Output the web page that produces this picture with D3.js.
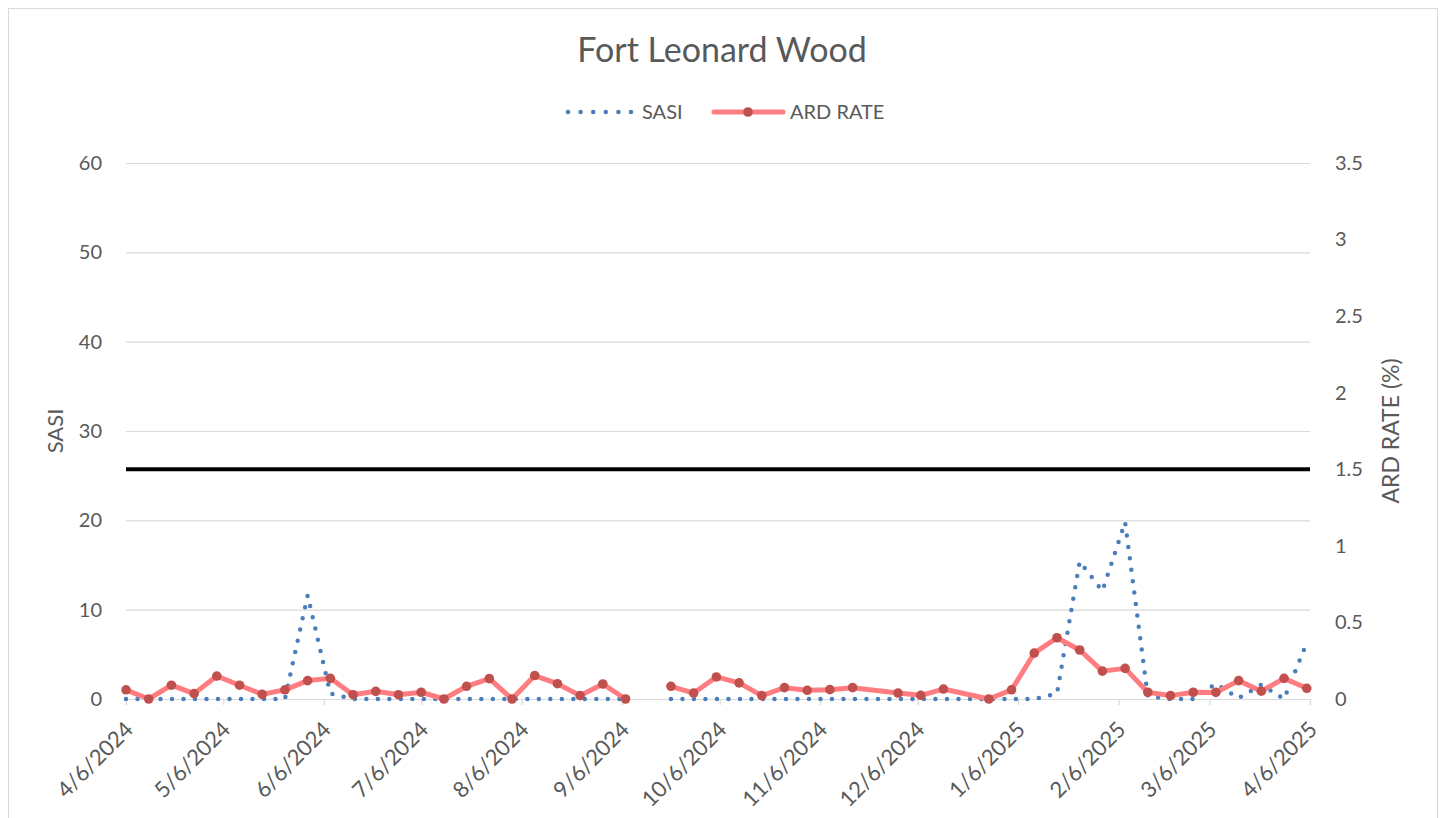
<!DOCTYPE html>
<html>
<head>
<meta charset="utf-8">
<script src="https://cdn.jsdelivr.net/npm/d3@7"></script>
<style>
  html, body { margin: 0; padding: 0; background: #ffffff; }
  svg { display: block; }
  text { font-family: Lato, "Open Sans", sans-serif; fill: #595959; }
</style>
</head>
<body>
<svg id="chart" width="1445" height="818"></svg>
<script>
// ---- data ----
const chartTitle = "Fort Leonard Wood";
const seriesNames = ["SASI", "ARD RATE"];
const weekDates = [
  "2024-04-06","2024-04-13","2024-04-20","2024-04-27","2024-05-04","2024-05-11","2024-05-18","2024-05-25",
  "2024-06-01","2024-06-08","2024-06-15","2024-06-22","2024-06-29","2024-07-06","2024-07-13","2024-07-20",
  "2024-07-27","2024-08-03","2024-08-10","2024-08-17","2024-08-24","2024-08-31","2024-09-07","2024-09-14",
  "2024-09-21","2024-09-28","2024-10-05","2024-10-12","2024-10-19","2024-10-26","2024-11-02","2024-11-09",
  "2024-11-16","2024-11-30","2024-12-07","2024-12-14","2024-12-28","2025-01-04","2025-01-11","2025-01-18",
  "2025-01-25","2025-02-01","2025-02-08","2025-02-15","2025-02-22","2025-03-01","2025-03-08","2025-03-15",
  "2025-03-22","2025-03-29","2025-04-05"
];
const sasiValues = [
  0, 0, 0, 0, 0, 0, 0, 0,
  11.6, 0.6, 0, 0, 0, 0, 0, 0,
  0, 0, 0, 0, 0, 0, 0, null,
  0, 0, 0, 0, 0, 0, 0, 0,
  0, 0, 0, 0, 0, 0, 0, 0.6,
  15.4, 12.1, 19.8, 0.3, 0, 0, 1.7, 0.1,
  1.6, 0, 6.3
];
const ardValues = [
  0.06, 0.0, 0.09, 0.035, 0.15, 0.09, 0.03, 0.06,
  0.12, 0.135, 0.028, 0.05, 0.028, 0.044, 0.0, 0.083,
  0.133, 0.0, 0.153, 0.10, 0.022, 0.098, 0.0, null,
  0.083, 0.039, 0.144, 0.105, 0.022, 0.074, 0.057, 0.061,
  0.074, 0.039, 0.024, 0.065, 0.0, 0.06, 0.30, 0.40,
  0.32, 0.182, 0.20, 0.044, 0.022, 0.044, 0.043, 0.12,
  0.051, 0.135, 0.07
];
const thresholdArd = 1.5;
const xTickLabels = ["4/6/2024","5/6/2024","6/6/2024","7/6/2024","8/6/2024","9/6/2024","10/6/2024",
  "11/6/2024","12/6/2024","1/6/2025","2/6/2025","3/6/2025","4/6/2025"];
const leftTicks = [0, 10, 20, 30, 40, 50, 60];
const rightTicks = [0, 0.5, 1, 1.5, 2, 2.5, 3, 3.5];
const leftAxisTitle = "SASI";
const rightAxisTitle = "ARD RATE (%)";

// ---- drawing ----
const FONT = 'Lato, "Open Sans", sans-serif';
const svg = d3.select("#chart");
const parseISO = d3.timeParse("%Y-%m-%d");
const parseTick = d3.timeParse("%m/%d/%Y");
const tickDates = xTickLabels.map(parseTick);

const plot = { left: 126, right: 1310, top: 163, bottom: 699 };
const x = d3.scaleTime().domain([tickDates[0], tickDates[tickDates.length - 1]]).range([plot.left, plot.right]);
const yL = d3.scaleLinear().domain([0, 60]).range([plot.bottom, plot.top]);
const yR = d3.scaleLinear().domain([0, 3.5]).range([plot.bottom, plot.top]);

const data = weekDates.map((d, i) => ({ date: parseISO(d), sasi: sasiValues[i], ard: ardValues[i] }));

// chart border
svg.append("rect").attr("x", 8.5).attr("y", 8.5).attr("width", 1429).attr("height", 830)
  .attr("fill", "none").attr("stroke", "#d9d9d9").attr("stroke-width", 1);

// title
svg.append("text").attr("x", 722).attr("y", 62).attr("text-anchor", "middle")
  .attr("font-size", 34).text(chartTitle);

// gridlines (left axis)
const gridG = svg.append("g")
  .attr("transform", `translate(${plot.left},0)`)
  .call(d3.axisLeft(yL).tickValues(leftTicks).tickSize(-(plot.right - plot.left)).tickFormat(""));
gridG.select(".domain").remove();
gridG.selectAll(".tick line").attr("stroke", "#d9d9d9").attr("stroke-width", 1.2);

// left tick labels
const leftG = svg.append("g")
  .attr("transform", `translate(${plot.left},0)`)
  .call(d3.axisLeft(yL).tickValues(leftTicks).tickSize(0).tickPadding(24));
leftG.select(".domain").remove();
leftG.selectAll("text").attr("font-size", 20).attr("fill", "#595959").style("font-family", FONT);

// right tick labels
const rightG = svg.append("g")
  .attr("transform", `translate(${plot.right},0)`)
  .call(d3.axisRight(yR).tickValues(rightTicks).tickSize(0).tickPadding(25).tickFormat(d3.format("")));
rightG.select(".domain").remove();
rightG.selectAll("text").attr("font-size", 20).attr("fill", "#595959").style("font-family", FONT);

// x axis
const xG = svg.append("g")
  .attr("transform", `translate(0,${plot.bottom})`)
  .call(d3.axisBottom(x).tickValues(tickDates).tickSize(6).tickFormat((d, i) => xTickLabels[i]));
xG.select(".domain").attr("stroke", "#d9d9d9").attr("stroke-width", 1.2);
xG.selectAll(".tick line").attr("stroke", "#d9d9d9").attr("stroke-width", 1.2);
xG.selectAll("text")
  .attr("font-size", 22).attr("fill", "#595959").style("font-family", FONT)
  .attr("text-anchor", "end")
  .attr("dy", null).attr("y", null)
  .attr("transform", "translate(8,32) rotate(-45)");

// axis titles
svg.append("text").attr("transform", `translate(63,431) rotate(-90)`)
  .attr("text-anchor", "middle").attr("font-size", 22).text(leftAxisTitle);
svg.append("text").attr("transform", `translate(1399,431) rotate(-90)`)
  .attr("text-anchor", "middle").attr("font-size", 23).text(rightAxisTitle);

// threshold line (right axis)
svg.append("line")
  .attr("x1", plot.left).attr("x2", plot.right)
  .attr("y1", yR(thresholdArd)).attr("y2", yR(thresholdArd))
  .attr("stroke", "#000").attr("stroke-width", 4);

// SASI dotted line
const sasiLine = d3.line().defined(d => d.sasi != null).x(d => x(d.date)).y(d => yL(d.sasi));
svg.append("path").datum(data).attr("d", sasiLine)
  .attr("fill", "none").attr("stroke", "#4a7ebb").attr("stroke-width", 4.5)
  .attr("stroke-linecap", "round").attr("stroke-dasharray", "0 11.5");

// ARD line
const ardLine = d3.line().defined(d => d.ard != null).x(d => x(d.date)).y(d => yR(d.ard));
svg.append("path").datum(data).attr("d", ardLine)
  .attr("fill", "none").attr("stroke", "#ff7c80").attr("stroke-width", 5)
  .attr("stroke-linejoin", "round");
svg.append("g").selectAll("circle").data(data.filter(d => d.ard != null)).join("circle")
  .attr("cx", d => x(d.date)).attr("cy", d => yR(d.ard)).attr("r", 4.8)
  .attr("fill", "#c0504d");

// legend
const lg = svg.append("g");
lg.append("line").attr("x1", 568).attr("x2", 633).attr("y1", 112).attr("y2", 112)
  .attr("stroke", "#4a7ebb").attr("stroke-width", 4.5).attr("stroke-linecap", "round")
  .attr("stroke-dasharray", "0 12.6");
lg.append("text").attr("x", 642).attr("y", 119).attr("font-size", 20).text(seriesNames[0]);
lg.append("line").attr("x1", 714).attr("x2", 783).attr("y1", 112).attr("y2", 112)
  .attr("stroke", "#ff7c80").attr("stroke-width", 5).attr("stroke-linecap", "round");
lg.append("circle").attr("cx", 748).attr("cy", 112).attr("r", 4.8).attr("fill", "#c0504d");
lg.append("text").attr("x", 790).attr("y", 119).attr("font-size", 20).text(seriesNames[1]);
</script>
</body>
</html>
